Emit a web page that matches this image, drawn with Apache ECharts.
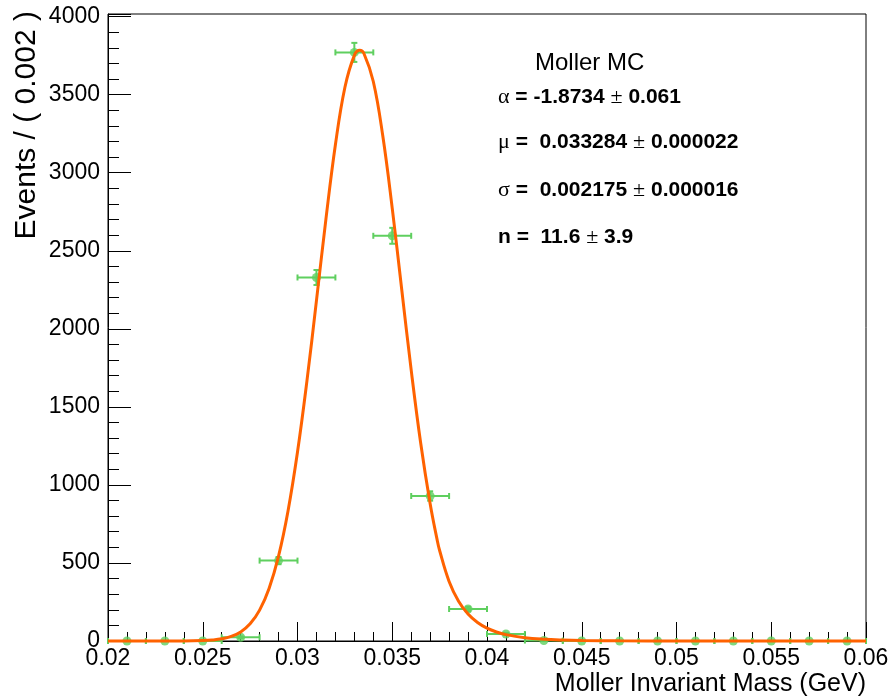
<!DOCTYPE html>
<html>
<head>
<meta charset="utf-8">
<script src="https://cdn.jsdelivr.net/npm/echarts@6/dist/echarts.min.js"></script>
<style>
html,body{margin:0;padding:0;background:#fff;}
#chart{width:893px;height:697px;}
</style>
</head>
<body>
<div id="chart"></div>
<script>
// ---- data ----
const binCenters = [0.021,0.023,0.025,0.027,0.029,0.031,0.033,0.035,0.037,0.039,0.041,0.043,0.045,0.047,0.049,0.051,0.053,0.055,0.057,0.059];
const counts     = [0,0,0,24,515,2329,3771,2596,929,205,45,3,0,0,0,0,0,0,0,0];
const countErrs  = [0,0,0,5,23,48,61,51,30,14,7,2,0,0,0,0,0,0,0,0];
const binHalfWidth = 0.001;

const curveX = [0.020,0.022,0.024,0.025,0.0255,0.026,0.0265,0.027,0.0275,0.028,0.0285,0.029,0.0295,0.030,0.0305,0.031,0.0315,0.032,0.0325,0.033,0.033284,0.0335,0.034,0.0345,0.035,0.0355,0.036,0.0365,0.037,0.037359,0.0375,0.038,0.0385,0.039,0.0395,0.040,0.0405,0.041,0.042,0.043,0.044,0.045,0.047,0.050,0.055,0.060];
const curveY = [0,0,0.4,2.7,6.3,13.9,29.2,58.3,110.2,197.9,336.9,543.8,833.0,1210.4,1667.9,2180.2,2703.1,3178.9,3546.0,3751.9,3784,3765.4,3584.4,3236.5,2771.9,2251.9,1735.2,1268.3,879.3,654.3,579.7,381.4,254.7,172.4,118.2,82.0,57.5,40.8,21.1,11.3,6.3,3.6,1.2,0.3,0,0];

const xTicks = { min: 0.02, max: 0.06, step: 0.005 };
const yTicks = { min: 0, max: 4000, step: 500 };

const paramTitle = 'Moller MC';
const paramLines = [
  ['α', '-1.8734', '0.061', ''],
  ['μ', '0.033284', '0.000022', ' '],
  ['σ', '0.002175', '0.000016', ' '],
  ['n', '11.6', '3.9', ' ']
];
const xTitle = 'Moller Invariant Mass (GeV)';
const yTitle = 'Events / ( 0.002 )';

// ---- chart ----
const FONT = '"Liberation Sans", Arial, Helvetica, sans-serif';
const green = '#5fcf5f';
const orange = '#ff6200';

const chart = echarts.init(document.getElementById('chart'), null, {renderer: 'canvas'});

const pointData = binCenters.map((x, i) => [x, counts[i], countErrs[i], binHalfWidth]);
const curveData = curveX.map((x, i) => [x, curveY[i]]);

const gridL = 108, gridT = 14, gridR = 27, gridB = 56;
const lineCenters = [97, 142.5, 190, 237];

const paramGraphics = paramLines.map((p, i) => {
  const isBoldSym = p[0] === 'n';
  return {
    type: 'text',
    x: 498,
    y: lineCenters[i],
    style: {
      text: (isBoldSym ? '{bs|' + p[0] + '}' : '{s|' + p[0] + '}') + '{b| =' + p[3] + ' ' + p[1] + ' }{s|±}{b| ' + p[2] + '}',
      verticalAlign: 'middle',
      rich: {
        s: { fontFamily: '"Liberation Serif", "DejaVu Serif", serif', fontSize: 22, fill: '#000' },
        bs: { fontFamily: FONT, fontWeight: 'bold', fontSize: 21, fill: '#000' },
        b: { fontFamily: FONT, fontWeight: 'bold', fontSize: 21, fill: '#000' }
      }
    }
  };
});

const option = {
  backgroundColor: '#fff',
  animation: false,
  grid: {
    left: gridL, top: gridT, right: gridR, bottom: gridB,
    show: true, borderColor: '#000', borderWidth: 1, backgroundColor: 'transparent'
  },
  xAxis: {
    type: 'value',
    min: xTicks.min, max: xTicks.max, interval: xTicks.step,
    axisLine: { show: true, onZero: false, lineStyle: { color: '#000', width: 1 } },
    axisTick: { show: true, inside: true, length: 19, lineStyle: { color: '#000', width: 1 } },
    minorTick: { show: true, splitNumber: 5, length: 9, lineStyle: { color: '#000', width: 1 } },
    splitLine: { show: false },
    axisLabel: {
      margin: 6, fontFamily: FONT, fontSize: 23, color: '#000',
      formatter: v => String(+(+v).toFixed(4))
    }
  },
  yAxis: {
    type: 'value',
    min: 0, max: 4017, interval: yTicks.step,
    axisLine: { show: true, lineStyle: { color: '#000', width: 1 } },
    axisTick: { show: true, inside: true, length: 23, lineStyle: { color: '#000', width: 1 } },
    minorTick: { show: true, splitNumber: 5, length: 11, lineStyle: { color: '#000', width: 1 } },
    splitLine: { show: false },
    axisLabel: {
      margin: 8, fontFamily: FONT, fontSize: 23, color: '#000',
      formatter: v => (Math.abs(v / yTicks.step - Math.round(v / yTicks.step)) < 1e-6 && v <= yTicks.max) ? String(Math.round(v)) : ''
    }
  },
  graphic: [
    {
      type: 'text', x: 535, y: 63,
      style: { text: paramTitle, fontFamily: FONT, fontSize: 24, fill: '#000', verticalAlign: 'middle' }
    },
    ...paramGraphics,
    {
      type: 'text', x: 866, y: 684,
      style: { text: xTitle, fontFamily: FONT, fontSize: 25, fill: '#000', align: 'right', verticalAlign: 'middle' }
    },
    {
      type: 'text', x: 27, y: 11, rotation: Math.PI / 2,
      style: { text: yTitle, fontFamily: FONT, fontSize: 30, fill: '#000', align: 'right', verticalAlign: 'middle' }
    }
  ],
  series: [
    {
      type: 'custom',
      z: 3,
      clip: false,
      data: pointData,
      renderItem: function (params, api) {
        const x = api.value(0), y = api.value(1), ey = api.value(2), hw = api.value(3);
        const l = api.coord([x - hw, y]);
        const r = api.coord([x + hw, y]);
        const st = { stroke: green, lineWidth: 2 };
        const cap = 3;
        const children = [
          { type: 'line', shape: { x1: l[0], y1: l[1], x2: r[0], y2: r[1] }, style: st },
          { type: 'line', shape: { x1: l[0], y1: l[1] - cap, x2: l[0], y2: l[1] + cap }, style: st },
          { type: 'line', shape: { x1: r[0], y1: r[1] - cap, x2: r[0], y2: r[1] + cap }, style: st }
        ];
        if (ey > 0) {
          const t = api.coord([x, y + ey]);
          const b = api.coord([x, y - ey]);
          children.push(
            { type: 'line', shape: { x1: t[0], y1: t[1], x2: b[0], y2: b[1] }, style: st },
            { type: 'line', shape: { x1: t[0] - cap, y1: t[1], x2: t[0] + cap, y2: t[1] }, style: st },
            { type: 'line', shape: { x1: b[0] - cap, y1: b[1], x2: b[0] + cap, y2: b[1] }, style: st }
          );
        }
        return { type: 'group', children: children };
      }
    },
    {
      type: 'scatter',
      z: 4,
      clip: false,
      symbol: 'circle',
      symbolSize: 9,
      itemStyle: { color: green },
      data: pointData.map(d => [d[0], d[1]])
    },
    {
      type: 'line',
      z: 5,
      clip: false,
      smooth: 0.4,
      showSymbol: false,
      symbol: 'none',
      lineStyle: { color: orange, width: 3 },
      data: curveData
    }
  ]
};
chart.setOption(option);
</script>
</body>
</html>
